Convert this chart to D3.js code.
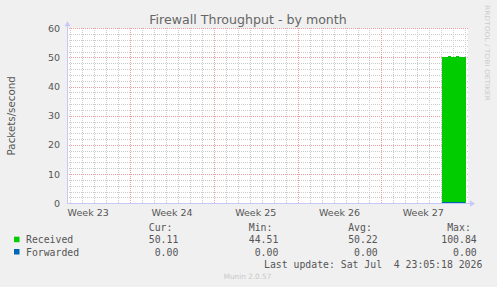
<!DOCTYPE html>
<html>
<head>
<meta charset="utf-8">
<script src="https://cdn.jsdelivr.net/npm/d3@7"></script>
<style>
  body { margin: 0; background: #f0f0f0; }
  svg { display: block; }
  text { fill: #555; }
  .mono { font-family: "DejaVu Sans Mono", monospace; font-size: 9.8px; }
</style>
</head>
<body>
<div id="container"></div>
<script>
/* DATA */
const weekLabels = ["Week 23", "Week 24", "Week 25", "Week 26", "Week 27"];
const weekStarts = [-1.73, 5.27, 12.27, 19.27, 26.27]; // day offsets of week boundaries
const yTicks = [0, 10, 20, 30, 40, 50, 60];
// received: 2h samples over the last two days (packets/second)
const receivedStart = 31.33;
const receivedValues = [50.2, 50.2, 50.3, 50.2, 50.2, 50.2, 50.5, 50.5, 50.6, 50.2, 50.2, 50.2,
                        50.2, 50.2, 50.5, 50.6, 50.5, 50.2, 50.2, 50.2, 50.2, 50.2, 50.2, 50.2];
const forwardedValues = receivedValues.map(() => 0);
const legendSeries = ["Received", "Forwarded"];
const legendColors = ["#00cc00", "#0066b3"];
const curVals = ["50.11", "0.00"];
const minVals = ["44.51", "0.00"];
const avgVals = ["50.22", "0.00"];
const maxVals = ["100.84", "0.00"];

/* CONSTANTS */
const W = 497, H = 287;
const plotLeft = 67, plotRight = 468, plotTop = 28.3, plotBottom = 203.3;

const svg = d3.select('#container').append('svg')
  .attr('width', W).attr('height', H)
  .style('background-color', '#f0f0f0');

const x = d3.scaleLinear().domain([0, 33.5]).range([plotLeft, plotRight]);
const y = d3.scaleLinear().domain([0, 60]).range([plotBottom, plotTop]);

// plot background
svg.append('rect')
  .attr('x', plotLeft).attr('y', plotTop)
  .attr('width', plotRight - plotLeft).attr('height', plotBottom - plotTop)
  .attr('fill', '#fff');

const grid = svg.append('g').attr('shape-rendering', 'crispEdges');

// minor grid: every day, every 2 units
const days = d3.range(0, 34).map(d => d + 0.27).filter(d => x(d) > plotLeft + 1 && x(d) < plotRight);
grid.selectAll('line.vminor')
  .data(days)
  .join('line')
  .attr('x1', d => Math.round(x(d)) + 0.5).attr('x2', d => Math.round(x(d)) + 0.5)
  .attr('y1', plotTop).attr('y2', plotBottom)
  .attr('stroke', '#cccccc').attr('stroke-dasharray', '1,1');

grid.selectAll('line.hminor')
  .data(d3.range(2, 60, 2))
  .join('line')
  .attr('y1', d => Math.round(y(d)) + 0.5).attr('y2', d => Math.round(y(d)) + 0.5)
  .attr('x1', plotLeft).attr('x2', plotRight)
  .attr('stroke', '#cccccc').attr('stroke-dasharray', '1,1');

// major grid
grid.selectAll('line.vmajor')
  .data(weekStarts.filter(d => d > 0))
  .join('line')
  .attr('x1', d => Math.round(x(d)) + 0.5).attr('x2', d => Math.round(x(d)) + 0.5)
  .attr('y1', plotTop).attr('y2', plotBottom)
  .attr('stroke', '#eaa0a0').attr('stroke-dasharray', '1,1');

grid.selectAll('line.hmajor')
  .data(yTicks.filter(d => d > 0))
  .join('line')
  .attr('y1', d => Math.round(y(d)) + 0.5).attr('y2', d => Math.round(y(d)) + 0.5)
  .attr('x1', plotLeft).attr('x2', plotRight)
  .attr('stroke', '#eaa0a0').attr('stroke-dasharray', '1,1');

// received area
const recData = receivedValues.map((v, i) => ({ t: receivedStart + i / 12, v }));
recData.push({ t: receivedStart + receivedValues.length / 12, v: receivedValues[receivedValues.length - 1] });
svg.append('path')
  .datum(recData)
  .attr('fill', '#00cc00')
  .attr('shape-rendering', 'crispEdges')
  .attr('d', d3.area().curve(d3.curveStepAfter)
    .x(d => Math.round(x(d.t))).y0(y(0)).y1(d => Math.round(y(d.v))));

// forwarded line
const fwdData = forwardedValues.map((v, i) => ({ t: receivedStart + i / 12, v }));
svg.append('path')
  .datum(fwdData)
  .attr('fill', 'none').attr('stroke', '#0066b3')
  .attr('shape-rendering', 'crispEdges')
  .attr('d', d3.line().x(d => Math.round(x(d.t))).y(d => Math.round(y(d.v)) - 0.5));

// axes lines with arrows
const axisColor = '#c8c8f8';
svg.append('line')
  .attr('x1', plotLeft + 0.5).attr('x2', plotLeft + 0.5).attr('y1', plotBottom).attr('y2', plotTop - 5)
  .attr('stroke', axisColor).attr('shape-rendering', 'crispEdges');
svg.append('line')
  .attr('x1', plotLeft).attr('x2', plotRight + 3).attr('y1', Math.round(plotBottom) + 0.5).attr('y2', Math.round(plotBottom) + 0.5)
  .attr('stroke', axisColor).attr('shape-rendering', 'crispEdges');
svg.append('path')
  .attr('d', `M${plotLeft - 2.5},${plotTop - 2} L${plotLeft + 0.5},${plotTop - 7} L${plotLeft + 3.5},${plotTop - 2} Z`)
  .attr('fill', axisColor);
svg.append('path')
  .attr('d', `M${plotRight + 2},${plotBottom - 3} L${plotRight + 7},${plotBottom + 0.5} L${plotRight + 2},${plotBottom + 3.5} Z`)
  .attr('fill', axisColor);

// y tick labels
svg.selectAll('text.ytick')
  .data(yTicks)
  .join('text')
  .attr('x', 60).attr('y', d => y(d) + 3.5)
  .attr('text-anchor', 'end')
  .attr('font-family', 'DejaVu Sans')
  .attr('font-size', '9.5px')
  .text(d => d);

// x labels, centered in each week
svg.selectAll('text.xtick')
  .data(weekLabels)
  .join('text')
  .attr('x', (d, i) => x(weekStarts[i] + 3.5))
  .attr('y', 215.5)
  .attr('text-anchor', 'middle')
  .attr('font-family', 'DejaVu Sans')
  .attr('font-size', '9.5px')
  .text(d => d);

// title
svg.append('text')
  .attr('x', 248).attr('y', 24)
  .attr('text-anchor', 'middle')
  .attr('font-family', 'DejaVu Sans')
  .attr('font-size', '12.6px')
  .style('fill', '#666')
  .text('Firewall Throughput - by month');

// y label
svg.append('text')
  .attr('transform', `translate(14.5, ${(plotTop + plotBottom) / 2}) rotate(-90)`)
  .attr('text-anchor', 'middle')
  .attr('font-family', 'DejaVu Sans')
  .attr('font-size', '10.3px')
  .text('Packets/second');

// rrdtool credit
svg.append('text')
  .attr('transform', 'translate(484.5, 5) rotate(90)')
  .attr('font-family', 'DejaVu Sans')
  .attr('font-size', '6.5px')
  .attr('textLength', 96)
  .attr('lengthAdjust', 'spacingAndGlyphs')
  .style('fill', '#cccccc')
  .text('RRDTOOL / TOBI OETIKER');

// legend
const legend = svg.append('g').attr('class', 'mono');
const cols = [
  { head: 'Cur:', vals: curVals, end: 178.3 },
  { head: 'Min:', vals: minVals, end: 278.3 },
  { head: 'Avg:', vals: avgVals, end: 377.7 },
  { head: 'Max:', vals: maxVals, end: 476.7 }
];
const rowY = [243.3, 255.6];
cols.forEach(c => {
  legend.append('text')
    .attr('class', 'mono')
    .attr('x', c.end - 5.9).attr('y', 231)
    .attr('text-anchor', 'end')
    .text(c.head);
  c.vals.forEach((v, i) => {
    legend.append('text')
      .attr('class', 'mono')
      .attr('x', c.end).attr('y', rowY[i])
      .attr('text-anchor', 'end')
      .text(v);
  });
});
legendSeries.forEach((s, i) => {
  legend.append('rect')
    .attr('x', 14).attr('y', rowY[i] - 6.6)
    .attr('width', 5.5).attr('height', 5.5)
    .attr('fill', legendColors[i]);
  legend.append('text')
    .attr('class', 'mono')
    .attr('x', 26).attr('y', rowY[i])
    .text(s);
});
legend.append('text')
  .attr('class', 'mono')
  .attr('x', 482.3).attr('y', 267.5)
  .attr('text-anchor', 'end')
  .attr('xml:space', 'preserve')
  .style('white-space', 'pre')
  .text('Last update: Sat Jul  4 23:05:18 2026');

svg.append('text')
  .attr('x', 247.5).attr('y', 278.5)
  .attr('text-anchor', 'middle')
  .attr('font-family', 'DejaVu Sans')
  .attr('font-size', '7.3px')
  .style('fill', '#c8c8c8')
  .text('Munin 2.0.57');
</script>
</body>
</html>
